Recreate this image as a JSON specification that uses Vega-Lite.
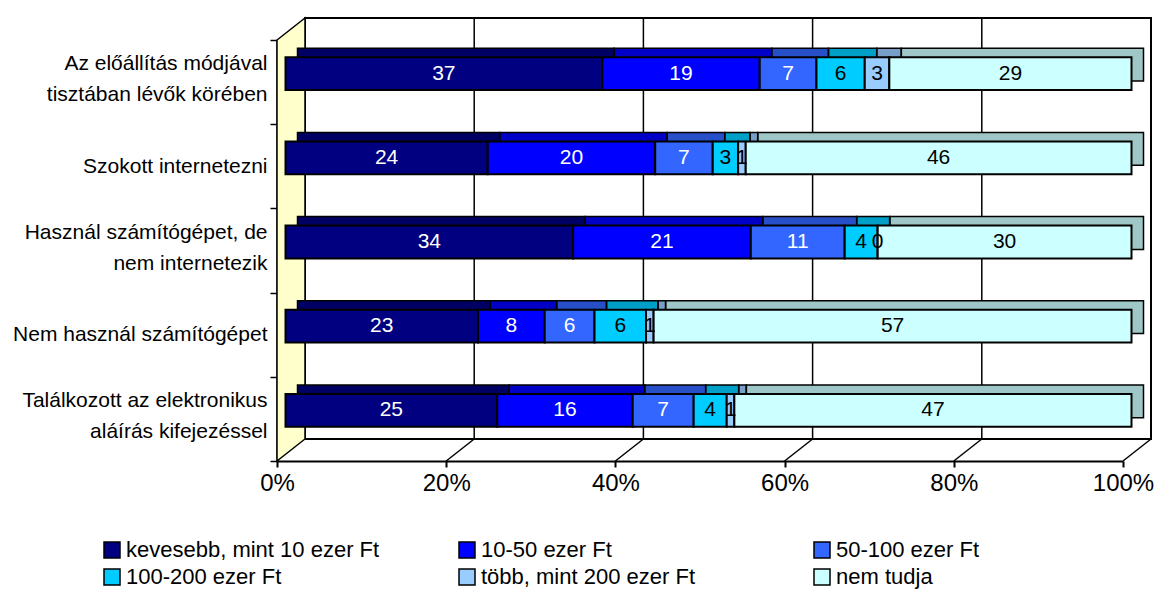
{
  "$schema": "https://vega.github.io/schema/vega-lite/v6.json",
  "width": 846,
  "height": 421,
  "autosize": {"type": "none"},
  "padding": {"left": 277, "top": 40, "right": 36, "bottom": 129},
  "background": "white",
  "config": {
    "view": {"stroke": null},
    "font": "Liberation Sans",
    "axis": {"grid": false},
    "axisX": {
      "labelFontSize": 24,
      "labelColor": "black",
      "labelFont": "Liberation Sans",
      "labelPadding": 4,
      "labelFlush": false,
      "domainColor": "black",
      "domainWidth": 2,
      "tickColor": "black",
      "tickWidth": 2,
      "tickSize": 6,
      "zindex": 1
    },
    "axisY": {
      "labelFontSize": 21,
      "labelLineHeight": 31,
      "labelColor": "black",
      "labelFont": "Liberation Sans",
      "labelPadding": 3,
      "labelLimit": 400,
      "domainColor": "black",
      "domainWidth": 2,
      "tickColor": "black",
      "tickWidth": 1.5,
      "tickSize": 7,
      "tickBand": "extent",
      "zindex": 1
    },
    "legend": {
      "orient": "none",
      "legendX": -176,
      "legendY": 499,
      "direction": "horizontal",
      "columns": 3,
      "gridAlign": "all",
      "symbolType": "square",
      "symbolSize": 256,
      "symbolStrokeColor": "black",
      "symbolStrokeWidth": 1.5,
      "symbolOpacity": 1,
      "labelFontSize": 22,
      "labelFont": "Liberation Sans",
      "labelColor": "black",
      "labelOffset": 3,
      "labelLimit": 400,
      "rowPadding": 5,
      "columnPadding": 76
    }
  },
  "datasets": {
    "main": [
      {"cat": "Az előállítás módjával\ntisztában lévők körében", "inc": "kevesebb, mint 10 ezer Ft", "ord": 0, "value": 37.4},
      {"cat": "Az előállítás módjával\ntisztában lévők körében", "inc": "10-50 ezer Ft", "ord": 1, "value": 18.6},
      {"cat": "Az előállítás módjával\ntisztában lévők körében", "inc": "50-100 ezer Ft", "ord": 2, "value": 6.7},
      {"cat": "Az előállítás módjával\ntisztában lévők körében", "inc": "100-200 ezer Ft", "ord": 3, "value": 5.7},
      {"cat": "Az előállítás módjával\ntisztában lévők körében", "inc": "több, mint 200 ezer Ft", "ord": 4, "value": 2.9},
      {"cat": "Az előállítás módjával\ntisztában lévők körében", "inc": "nem tudja", "ord": 5, "value": 28.6},
      {"cat": "Szokott internetezni", "inc": "kevesebb, mint 10 ezer Ft", "ord": 0, "value": 23.9},
      {"cat": "Szokott internetezni", "inc": "10-50 ezer Ft", "ord": 1, "value": 19.8},
      {"cat": "Szokott internetezni", "inc": "50-100 ezer Ft", "ord": 2, "value": 6.8},
      {"cat": "Szokott internetezni", "inc": "100-200 ezer Ft", "ord": 3, "value": 3.0},
      {"cat": "Szokott internetezni", "inc": "több, mint 200 ezer Ft", "ord": 4, "value": 0.9},
      {"cat": "Szokott internetezni", "inc": "nem tudja", "ord": 5, "value": 45.6},
      {"cat": "Használ számítógépet, de\nnem internetezik", "inc": "kevesebb, mint 10 ezer Ft", "ord": 0, "value": 34.0},
      {"cat": "Használ számítógépet, de\nnem internetezik", "inc": "10-50 ezer Ft", "ord": 1, "value": 21.0},
      {"cat": "Használ számítógépet, de\nnem internetezik", "inc": "50-100 ezer Ft", "ord": 2, "value": 11.1},
      {"cat": "Használ számítógépet, de\nnem internetezik", "inc": "100-200 ezer Ft", "ord": 3, "value": 3.9},
      {"cat": "Használ számítógépet, de\nnem internetezik", "inc": "több, mint 200 ezer Ft", "ord": 4, "value": 0.0},
      {"cat": "Használ számítógépet, de\nnem internetezik", "inc": "nem tudja", "ord": 5, "value": 30.0},
      {"cat": "Nem használ számítógépet", "inc": "kevesebb, mint 10 ezer Ft", "ord": 0, "value": 22.8},
      {"cat": "Nem használ számítógépet", "inc": "10-50 ezer Ft", "ord": 1, "value": 7.9},
      {"cat": "Nem használ számítógépet", "inc": "50-100 ezer Ft", "ord": 2, "value": 5.9},
      {"cat": "Nem használ számítógépet", "inc": "100-200 ezer Ft", "ord": 3, "value": 6.1},
      {"cat": "Nem használ számítógépet", "inc": "több, mint 200 ezer Ft", "ord": 4, "value": 0.9},
      {"cat": "Nem használ számítógépet", "inc": "nem tudja", "ord": 5, "value": 56.6},
      {"cat": "Találkozott az elektronikus\naláírás kifejezéssel", "inc": "kevesebb, mint 10 ezer Ft", "ord": 0, "value": 25.0},
      {"cat": "Találkozott az elektronikus\naláírás kifejezéssel", "inc": "10-50 ezer Ft", "ord": 1, "value": 16.0},
      {"cat": "Találkozott az elektronikus\naláírás kifejezéssel", "inc": "50-100 ezer Ft", "ord": 2, "value": 7.2},
      {"cat": "Találkozott az elektronikus\naláírás kifejezéssel", "inc": "100-200 ezer Ft", "ord": 3, "value": 3.9},
      {"cat": "Találkozott az elektronikus\naláírás kifejezéssel", "inc": "több, mint 200 ezer Ft", "ord": 4, "value": 0.9},
      {"cat": "Találkozott az elektronikus\naláírás kifejezéssel", "inc": "nem tudja", "ord": 5, "value": 46.9}
    ],
    "grid": [{"t": 0.2}, {"t": 0.4}, {"t": 0.6}, {"t": 0.8}],
    "floor": [{"t": 0.2}, {"t": 0.4}, {"t": 0.6}, {"t": 0.8}, {"t": 1.0}],
    "one": [{"t": 0}]
  },
  "layer": [
    {
      "data": {"name": "one"},
      "mark": {"type": "rect", "fill": "white", "stroke": "black", "strokeWidth": 2, "xOffset": 28, "x2Offset": 28, "yOffset": -22, "y2Offset": -22},
      "encoding": {
        "x": {"datum": 0, "type": "quantitative", "scale": {"domain": [0, 1]}, "title": null, "axis": {"values": [0, 0.2, 0.4, 0.6, 0.8, 1], "format": ".0%"}},
        "x2": {"datum": 1},
        "y": {"value": 0},
        "y2": {"value": "height"}
      }
    },
    {
      "data": {"name": "grid"},
      "mark": {"type": "rule", "color": "black", "strokeWidth": 1.5, "xOffset": 28, "yOffset": -22, "y2Offset": -22},
      "encoding": {
        "x": {"field": "t", "type": "quantitative", "title": null, "axis": {"values": [0, 0.2, 0.4, 0.6, 0.8, 1], "format": ".0%"}},
        "y": {"value": 0},
        "y2": {"value": "height"}
      }
    },
    {
      "data": {"name": "floor"},
      "mark": {"type": "point", "shape": "M0,0L28,-22", "size": 4, "filled": false, "stroke": "black", "strokeWidth": 1.5, "opacity": 1},
      "encoding": {
        "x": {"field": "t", "type": "quantitative", "title": null, "axis": {"values": [0, 0.2, 0.4, 0.6, 0.8, 1], "format": ".0%"}},
        "y": {"value": "height"}
      }
    },
    {
      "data": {"name": "one"},
      "mark": {"type": "point", "shape": "M0,0L0,-421L28,-443L28,-22Z", "size": 4, "filled": true, "fill": "#FFFFCC", "stroke": "black", "strokeWidth": 1.5, "opacity": 1},
      "encoding": {
        "x": {"field": "t", "type": "quantitative", "title": null, "axis": {"values": [0, 0.2, 0.4, 0.6, 0.8, 1], "format": ".0%"}},
        "y": {"value": "height"}
      }
    },
    {
      "data": {"name": "main"},
      "transform": [
        {"stack": "value", "groupby": ["cat"], "sort": [{"field": "ord", "order": "ascending"}], "offset": "normalize", "as": ["v0", "v1"]},
        {"calculate": "(datum.v0 + datum.v1) / 2", "as": "mid"}
      ],
      "encoding": {
        "y": {
          "field": "cat",
          "type": "nominal",
          "title": null,
          "sort": [
            "Az előállítás módjával\ntisztában lévők körében",
            "Szokott internetezni",
            "Használ számítógépet, de\nnem internetezik",
            "Nem használ számítógépet",
            "Találkozott az elektronikus\naláírás kifejezéssel"
          ],
          "scale": {"paddingInner": 0, "paddingOuter": 0},
          "axis": {
            "labelExpr": "datum.value ? split(datum.value, '\\n') : ''",
            "labelOffset": {"condition": {"test": "datum.value && indexof(datum.value, '\\n') >= 0", "value": -18.5}, "value": 0}
          }
        },
        "x": {"field": "v0", "type": "quantitative", "title": null, "axis": {"values": [0, 0.2, 0.4, 0.6, 0.8, 1], "format": ".0%"}},
        "x2": {"field": "v1"}
      },
      "layer": [
        {
          "mark": {"type": "bar", "height": {"band": 0.39}, "strokeWidth": 0, "xOffset": 20.5, "x2Offset": 20.5, "yOffset": -17.5, "y2Offset": -17.5},
          "encoding": {
            "color": {
              "field": "inc",
              "type": "nominal",
              "title": null,
              "scale": {
                "domain": ["kevesebb, mint 10 ezer Ft", "10-50 ezer Ft", "50-100 ezer Ft", "100-200 ezer Ft", "több, mint 200 ezer Ft", "nem tudja"],
                "range": ["#000080", "#0000FF", "#3366FF", "#00CCFF", "#99CCFF", "#CCFFFF"]
              }
            }
          }
        },
        {
          "mark": {"type": "bar", "height": {"band": 0.39}, "fill": "black", "fillOpacity": 0.22, "stroke": "black", "strokeWidth": 1.5, "strokeOpacity": 1, "xOffset": 20.5, "x2Offset": 20.5, "yOffset": -17.5, "y2Offset": -17.5}
        },
        {
          "mark": {"type": "bar", "height": {"band": 0.39}, "stroke": "black", "strokeWidth": 2, "opacity": 1, "xOffset": 8.5, "x2Offset": 8.5, "yOffset": -8.5, "y2Offset": -8.5},
          "encoding": {
            "color": {
              "field": "inc",
              "type": "nominal",
              "title": null,
              "scale": {
                "domain": ["kevesebb, mint 10 ezer Ft", "10-50 ezer Ft", "50-100 ezer Ft", "100-200 ezer Ft", "több, mint 200 ezer Ft", "nem tudja"],
                "range": ["#000080", "#0000FF", "#3366FF", "#00CCFF", "#99CCFF", "#CCFFFF"]
              }
            }
          }
        },
        {
          "mark": {"type": "text", "fontSize": 21, "font": "Liberation Sans", "xOffset": 8.5, "yOffset": -8.5},
          "encoding": {
            "x": {"field": "mid", "type": "quantitative", "title": null, "axis": {"values": [0, 0.2, 0.4, 0.6, 0.8, 1], "format": ".0%"}},
            "x2": null,
            "text": {"field": "value", "type": "quantitative", "format": ".0f"},
            "color": {"condition": {"test": "datum.ord < 3", "value": "white"}, "value": "black"}
          }
        }
      ]
    }
  ]
}
